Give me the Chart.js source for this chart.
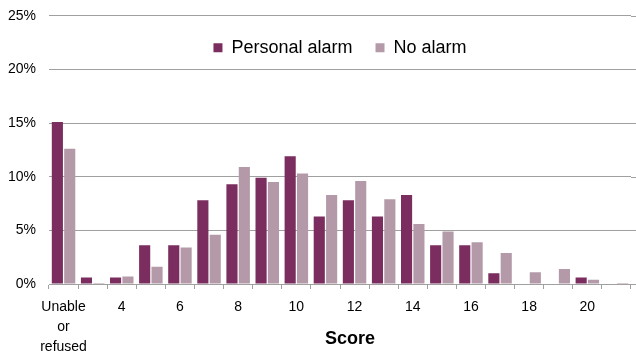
<!DOCTYPE html>
<html>
<head>
<meta charset="utf-8">
<script src="https://cdn.jsdelivr.net/npm/chart.js@4.4.0/dist/chart.umd.min.js"></script>
<style>
  html, body { margin: 0; padding: 0; background: #fff; }
  #wrap { width: 636px; height: 351px; }
</style>
</head>
<body>
<div id="wrap"><canvas id="Cnvs1" width="636" height="351"></canvas></div>
<script>
// scores, first one is the "could not do it" group
var categories = ['Unable or refused', '3', '4', '5', '6', '7', '8', '9', '10', '11', '12',
                  '13', '14', '15', '16', '17', '18', '19', '20', '21'];
var personalAlarm = [15.1, 0.6, 0.6, 3.6, 3.6, 7.8, 9.3, 9.9, 11.9, 6.3, 7.8,
                     6.3, 8.3, 3.6, 3.6, 1.0, 0, 0, 0.6, 0];
var noAlarm = [12.6, 0.1, 0.7, 1.6, 3.4, 4.6, 10.9, 9.5, 10.3, 8.3, 9.6,
               7.9, 5.6, 4.9, 3.9, 2.9, 1.1, 1.4, 0.4, 0.1];
var yTicks = [0, 5, 10, 15, 20, 25];

var gridCol = '#a0a0a0';
var font = '"Liberation Sans", Arial, sans-serif';

// legend sits inside the plot, so it must not take any room from it
var flatLegend = {
  id: 'flatLegend',
  afterInit: function(chart) {
    var lg = chart.legend;
    var fit = lg.fit;
    lg.fit = function() { fit.call(this); this._realH = this.height; this.height = 0; };
  },
  afterLayout: function(chart) {
    var lg = chart.legend;
    lg.height = lg._realH;
    lg.bottom = lg.top + lg.height;
  }
};

// grid lines run a bit past the last category in the original
var extendGrid = {
  id: 'extendGrid',
  beforeDatasetsDraw: function(chart) {
    var ctx = chart.ctx, a = chart.chartArea, y = chart.scales.y;
    ctx.save();
    ctx.strokeStyle = gridCol;
    ctx.lineWidth = 1;
    y.ticks.forEach(function(t) {
      var py = Math.round(y.getPixelForValue(t.value)) + 0.5;
      ctx.beginPath();
      ctx.moveTo(a.right, py);
      ctx.lineTo(chart.width, py);
      ctx.stroke();
    });
    ctx.restore();
  }
};

// axis title, drawn by hand so it can sit beside the 3-line label
var scoreTitle = {
  id: 'scoreTitle',
  afterDraw: function(chart) {
    var ctx = chart.ctx, a = chart.chartArea;
    ctx.save();
    ctx.font = 'bold 18px ' + font;
    ctx.fillStyle = '#000';
    ctx.textAlign = 'center';
    ctx.textBaseline = 'middle';
    ctx.fillText('Score', (a.left + a.right) / 2 + 10, a.bottom + 55);
    ctx.restore();
  }
};

var Cnvs = document.getElementById('Cnvs1').getContext('2d');
var barChart = new Chart(Cnvs, {
  type: 'bar',
  data: {
    labels: categories,
    datasets: [
      { label: 'Personal alarm', data: personalAlarm, backgroundColor: '#7a2d5e' },
      { label: 'No alarm', data: noAlarm, backgroundColor: '#b49aa8' }
    ]
  },
  options: {
    responsive: false,
    animation: false,
    layout: { padding: { top: 15.7, right: 5, left: 0, bottom: 0 } },
    datasets: { bar: { categoryPercentage: 0.85, barPercentage: 0.9 } },
    plugins: {
      tooltip: { enabled: false },
      legend: {
        position: 'top',
        align: 'center',
        fullSize: false,
        labels: {
          boxWidth: 9,
          boxHeight: 9,
          padding: 23,
          color: '#000',
          font: { family: font, size: 18 }
        }
      }
    },
    scales: {
      x: {
        grid: { offset: true, drawOnChartArea: false, drawTicks: true, tickLength: 5, color: gridCol },
        border: { display: true, color: gridCol, width: 1 },
        ticks: {
          autoSkip: false,
          maxRotation: 0,
          padding: 8,
          color: '#000',
          font: { family: font, size: 14, lineHeight: 1.43 },
          callback: function(v, i) { return i % 2 ? '' : categories[i].split(' '); }
        },
        afterFit: function(s) { s.height = 67; }
      },
      y: {
        min: 0,
        max: 25,
        afterBuildTicks: function(s) { s.ticks = yTicks.map(function(v) { return { value: v }; }); },
        grid: { drawTicks: false, color: gridCol },
        border: { display: false },
        ticks: {
          padding: 13,
          color: '#000',
          font: { family: font, size: 14 },
          callback: function(v) { return v + '%'; }
        },
        afterFit: function(s) { s.width = 49; s.paddingTop = 0; s.paddingBottom = 0; }
      }
    }
  },
  plugins: [flatLegend, extendGrid, scoreTitle]
});
</script>
</body>
</html>
